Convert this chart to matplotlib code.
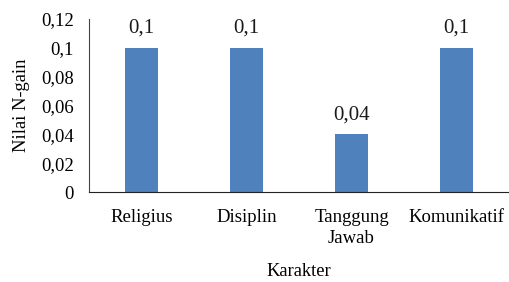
import matplotlib.pyplot as plt

# data
categories = ['Religius', 'Disiplin', 'Tanggung\nJawab', 'Komunikatif']
values = [0.1, 0.1, 0.04, 0.1]
value_labels = ['0,1', '0,1', '0,04', '0,1']
yticks = [0, 0.02, 0.04, 0.06, 0.08, 0.1, 0.12]
ytick_labels = ['0', '0,02', '0,04', '0,06', '0,08', '0,1', '0,12']

plt.rcParams['font.family'] = 'Liberation Serif'

fig = plt.figure(figsize=(5.09, 2.82), dpi=100)
ax = fig.add_axes([0.175, 0.319, 0.825, 0.614])

x = range(len(categories))
bars = ax.bar(x, values, width=0.31, color='#4F81BD')

for xi, v, lab in zip(x, values, value_labels):
    ax.annotate(lab, (xi, v), xytext=(0, 7), textcoords='offset points',
                ha='center', va='bottom', fontsize=15, color='#1a1a1a')

ax.set_xlim(-0.5, 3.5)
ax.set_ylim(0, 0.12)
ax.set_yticks(yticks)
ax.set_yticklabels(ytick_labels, fontsize=13.5)
ax.set_xticks(list(x))
ax.set_xticklabels(categories, fontsize=13.5, linespacing=1.35)
ax.tick_params(axis='x', length=0, pad=12)
ax.tick_params(axis='y', length=0, pad=11)

for s in ['top', 'right']:
    ax.spines[s].set_visible(False)
ax.spines['left'].set_color('#444444')
ax.spines['bottom'].set_color('#222222')

ax.set_ylabel('Nilai N-gain', fontsize=13.3, labelpad=8)
ax.set_xlabel('Karakter', fontsize=13.3, labelpad=11)

fig.savefig('out.png', dpi=100)
